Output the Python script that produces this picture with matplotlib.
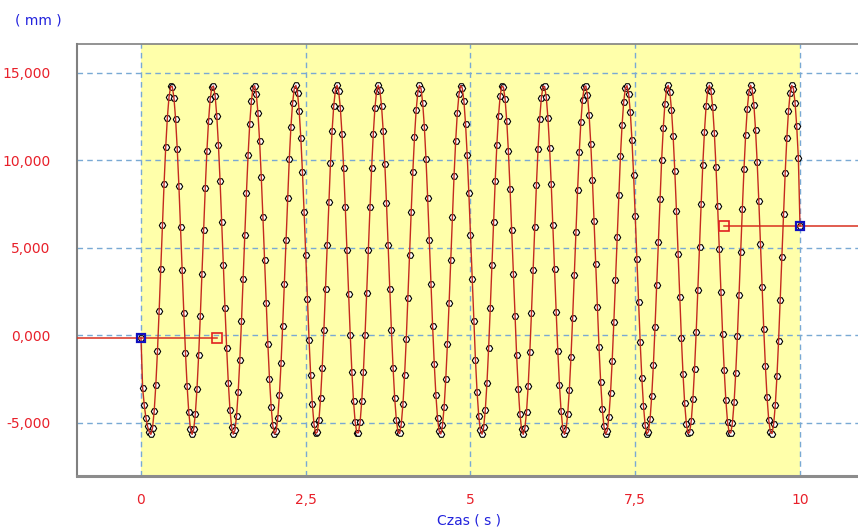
import numpy as np
import matplotlib
matplotlib.use("Agg")
import matplotlib.pyplot as plt

# ---- data -------------------------------------------------------------
sample_interval_s = 0.025
displacement_mm = [
    -130, -3000, -4000, -4700, -5200, -5500, -5650, -5290, -4330, -2830, -890, 1380, 3820, 6300, 8660, 10750, 12440, 13620, 14230, 14220, 13580, 12380, 10670, 8570, 6210,
    3720, 1280, -980, -2900, -4380, -5320, -5650, -5360, -4460, -3030, -1130, 1100, 3540, 6020, 8400, 10530, 12260, 13510, 14190, 14250, 13690, 12550, 10890, 8830, 6490,
    4010, 1550, -730, -2700, -4230, -5230, -5640, -5420, -4600, -3220, -1380, 830, 3250, 5740, 8140, 10300, 12090, 13400, 14140, 14270, 13780, 12700, 11100, 9080, 6770,
    4300, 1830, -480, -2490, -4080, -5140, -5630, -5480, -4730, -3400, -1600, 570, 2970, 5450, 7870, 10070, 11910, 13270, 14090, 14290, 13860, 12850, 11310, 9340, 7040,
    4580, 2110, -230, -2280, -3930, -5060, -5600, -5520, -4840, -3580, -1830, 300, 2680, 5170, 7600, 9830, 11710, 13140, 14020, 14300, 13950, 13000, 11510, 9580, 7320,
    4870, 2390, 30, -2070, -3760, -4950, -5560, -5560, -4950, -3750, -2060, 40, 2400, 4880, 7330, 9590, 11520, 13010, 13950, 14300, 14020, 13130, 11710, 9820, 7590,
    5160, 2670, 290, -1840, -3590, -4840, -5530, -5600, -5050, -3920, -2270, -220, 2120, 4600, 7060, 9350, 11320, 12860, 13870, 14290, 14090, 13270, 11900, 10060, 7860,
    5440, 2960, 560, -1610, -3410, -4730, -5480, -5630, -5140, -4070, -2480, -470, 1840, 4310, 6780, 9090, 11110, 12710, 13780, 14280, 14140, 13390, 12080, 10290, 8130,
    5730, 3240, 820, -1380, -3230, -4600, -5420, -5640, -5230, -4230, -2700, -730, 1560, 4020, 6500, 8840, 10900, 12550, 13690, 14250, 14190, 13500, 12260, 10520, 8390,
    6010, 3530, 1090, -1140, -3030, -4470, -5360, -5650, -5310, -4370, -2890, -970, 1290, 3730, 6220, 8580, 10680, 12380, 13580, 14220, 14230, 13610, 12430, 10740, 8650,
    6290, 3810, 1370, -900, -2840, -4340, -5290, -5650, -5380, -4500, -3090, -1210, 1020, 3450, 5940, 8320, 10460, 12210, 13470, 14180, 14260, 13720, 12590, 10960, 8910,
    6570, 4100, 1640, -660, -2640, -4190, -5200, -5640, -5440, -4640, -3280, -1450, 750, 3160, 5650, 8050, 10230, 12030, 13360, 14130, 14280, 13800, 12750, 11170, 9160,
    6850, 4390, 1920, -400, -2430, -4030, -5120, -5620, -5500, -4760, -3460, -1680, 480, 2880, 5370, 7790, 10000, 11850, 13230, 14070, 14290, 13890, 12900, 11380, 9410,
    7130, 4680, 2200, -150, -2220, -3880, -5030, -5590, -5540, -4870, -3630, -1900, 220, 2590, 5080, 7520, 9760, 11650, 13100, 14000, 14300, 13970, 13040, 11570, 9650,
    7400, 4960, 2480, 110, -2000, -3710, -4920, -5550, -5570, -4980, -3810, -2130, -40, 2310, 4790, 7240, 9510, 11460, 12970, 13930, 14300, 14040, 13180, 11770, 9900,
    7680, 5250, 2760, 370, -1770, -3530, -4810, -5510, -5610, -5080, -3970, -2340, -300, 2030, 4510, 6970, 9270, 11260, 12810, 13840, 14290, 14100, 13310, 11960, 10130,
    6260,
]
start_cursor_s = 1.15
end_cursor_s = 8.85
x_ticks = [0, 2.5, 5, 7.5, 10]
x_tick_labels = ["0", "2,5", "5", "7,5", "10"]
y_ticks = [-5000, 0, 5000, 10000, 15000]
y_tick_labels = ["-5,000", "0,000", "5,000", "10,000", "15,000"]
x_label = "Czas ( s )"
y_label = "( mm )"

# ---- figure -----------------------------------------------------------
values = np.array(displacement_mm, dtype=float)
t = np.arange(len(values)) * sample_interval_s
t_start, t_end = t[0], t[-1]
v_start, v_end = values[0], values[-1]

fig = plt.figure(figsize=(8.58, 5.30), dpi=100)
ax = fig.add_axes([77/858, 54/530, 781/858, 432/530])
xlim = (-0.971, 10.880)
ylim = (-8029, 16657)
ax.set_xlim(*xlim)
ax.set_ylim(*ylim)

ax.axvspan(t_start, t_end, color="#FFFFAA", zorder=0, lw=0)

grid_kw = dict(color="#79A9D4", lw=1.0, linestyle=(0, (4, 3)), zorder=1)
for xv in x_ticks:
    ax.axvline(xv, **grid_kw)
for yv in y_ticks:
    ax.axhline(yv, **grid_kw)

red = "#C42A1E"
# cursor lines
ax.plot([xlim[0], start_cursor_s], [v_start, v_start], color="#D8301F", lw=1.1, zorder=3)
ax.plot([end_cursor_s, xlim[1]], [v_end, v_end], color="#D8301F", lw=1.1, zorder=3)

# markers and data line
ax.plot(t, values, linestyle="none", marker="H", ms=4.6, mfc="white", mec="black",
        mew=0.8, zorder=2.5)
ax.plot(t, values, color=red, lw=1.0, zorder=3)

ax.plot([start_cursor_s, end_cursor_s], [v_start, v_end], linestyle="none", marker="s",
        ms=6.5, mfc="none", mec="#E02020", mew=1.2, zorder=4)
ax.plot([t_start, t_end], [v_start, v_end], linestyle="none", marker="s",
        ms=5.5, mfc="none", mec="#1010C0", mew=1.6, zorder=4)

ax.set_xticks(x_ticks)
ax.set_xticklabels(x_tick_labels)
ax.set_yticks(y_ticks)
ax.set_yticklabels(y_tick_labels)
ax.tick_params(axis="both", length=0, labelsize=10, labelcolor="#E8202A")
ax.tick_params(axis="y", pad=19)
ax.tick_params(axis="x", pad=12)

ax.spines["right"].set_visible(False)
ax.spines["left"].set_color("#808080")
ax.spines["left"].set_linewidth(1.5)
ax.spines["top"].set_color("#808080")
ax.spines["top"].set_linewidth(1.2)
ax.spines["bottom"].set_color("#8C8C8C")
ax.spines["bottom"].set_linewidth(2.2)

fig.text(38/858, 1 - 20/530, y_label, color="#2222DD", fontsize=10,
         ha="center", va="center")
fig.text(469/858, 1 - 521/530, x_label, color="#2222DD", fontsize=10,
         ha="center", va="center")

fig.savefig("out.png", dpi=100)
